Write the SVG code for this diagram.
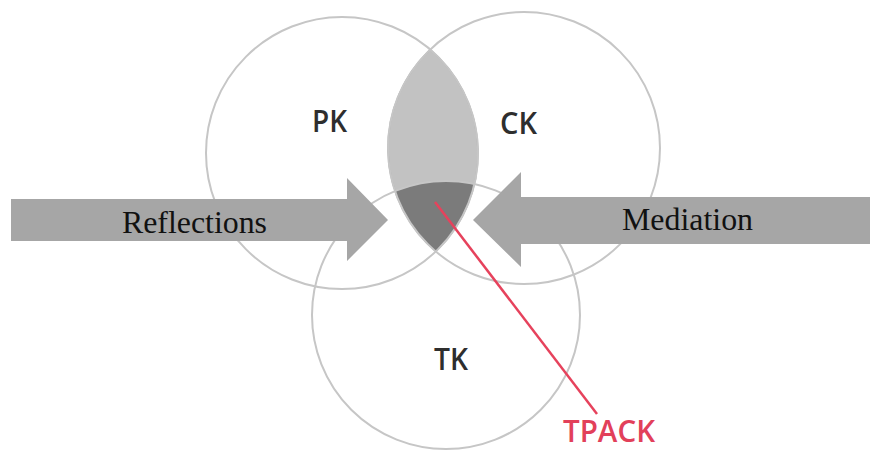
<svg xmlns="http://www.w3.org/2000/svg" width="870" height="452" viewBox="0 0 870 452">
  <style>
    .ring { fill: none; stroke: #c6c6c6; stroke-width: 2; }
    .lab { font-family: "Open Sans", "Liberation Sans", sans-serif; font-weight: 600; font-size: 31px; fill: #2e2e2e; }
    .arrow { fill: #a6a6a6; }
    .atext { font-family: "Liberation Serif", "Times New Roman", serif; font-size: 31px; fill: #111; }
    .red { stroke: #e6425c; stroke-width: 2.5; fill: none; }
  </style>
  <defs>
    <clipPath id="lensClip">
      <path d="M430.2 49.5 A136 136 0 0 0 435.8 251.5 A136 136 0 0 0 430.2 49.5 Z"/>
    </clipPath>
  </defs>
  <rect width="870" height="452" fill="#ffffff"/>

  <g id="lens">
    <path d="M430.2 49.5 A136 136 0 0 0 435.8 251.5 A136 136 0 0 0 430.2 49.5 Z" fill="#c2c2c2" stroke="#a8a8a8" stroke-width="1.5"/>
    <circle cx="446" cy="315" r="134" fill="#7b7b7b" clip-path="url(#lensClip)"/>
  </g>

  <g id="pk">
    <circle class="ring" cx="342" cy="153" r="136"/>
    <text class="lab" x="312" y="132" textLength="35" lengthAdjust="spacingAndGlyphs">PK</text>
  </g>
  <g id="ck">
    <circle class="ring" cx="524" cy="148" r="136"/>
    <text class="lab" x="500" y="134" textLength="37" lengthAdjust="spacingAndGlyphs">CK</text>
  </g>
  <g id="tk">
    <circle class="ring" cx="446" cy="315" r="134"/>
    <text class="lab" x="434" y="370" textLength="34" lengthAdjust="spacingAndGlyphs">TK</text>
  </g>

  <g id="reflections">
    <polygon class="arrow" points="11,199 347,199 347,178 388,220 347,261 347,241 11,241"/>
    <text class="atext" x="122" y="233" textLength="145" lengthAdjust="spacingAndGlyphs">Reflections</text>
  </g>
  <g id="mediation">
    <polygon class="arrow" points="870,197 521,197 521,172 473,220 521,267 521,244 870,244"/>
    <text class="atext" x="622" y="230" textLength="131" lengthAdjust="spacingAndGlyphs">Mediation</text>
  </g>

  <g id="connectors">
    <line class="red" x1="435" y1="202" x2="597" y2="414"/>
  </g>

  <g id="tpack">
    <text class="lab" x="563" y="442" font-size="30" textLength="92" lengthAdjust="spacingAndGlyphs" style="fill:#e2405a;font-size:30px">TPACK</text>
  </g>
</svg>
